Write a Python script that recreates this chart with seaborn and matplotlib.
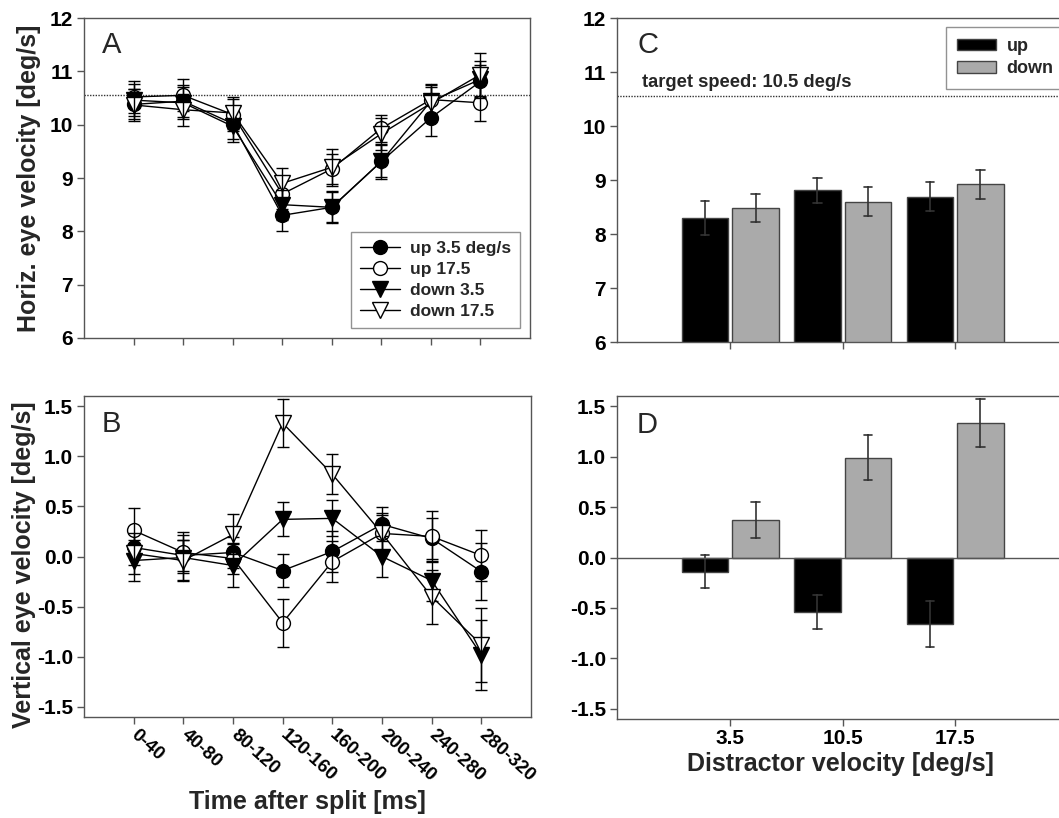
import numpy as np
import pandas as pd
import matplotlib
matplotlib.use("Agg")
import matplotlib.pyplot as plt
import seaborn as sns
from matplotlib.patches import Patch
from matplotlib.lines import Line2D

# ---------------- data ----------------
time_bins = ["0-40", "40-80", "80-120", "120-160", "160-200", "200-240", "240-280", "280-320"]
series_names = ["up 3.5 deg/s", "up 17.5", "down 3.5", "down 17.5"]

# Panel A: horizontal eye velocity (mean, sem)
horiz_up35 = [10.38, 10.44, 10.02, 8.30, 8.45, 9.31, 10.13, 10.81]
horiz_up175 = [10.52, 10.55, 10.19, 8.70, 9.17, 9.93, 10.47, 10.41]
horiz_down35 = [10.46, 10.41, 9.97, 8.50, 8.45, 9.31, 10.44, 10.85]
horiz_down175 = [10.37, 10.28, 10.22, 8.90, 9.20, 9.83, 10.40, 10.94]
horiz_up35_sem = [0.28, 0.30, 0.28, 0.30, 0.30, 0.32, 0.34, 0.30]
horiz_up175_sem = [0.30, 0.30, 0.30, 0.28, 0.28, 0.25, 0.30, 0.35]
horiz_down35_sem = [0.30, 0.30, 0.30, 0.28, 0.28, 0.30, 0.30, 0.35]
horiz_down175_sem = [0.30, 0.30, 0.30, 0.28, 0.35, 0.30, 0.30, 0.40]

# Panel B: vertical eye velocity (mean, sem)
vert_up35 = [0.09, 0.01, 0.04, -0.14, 0.05, 0.32, 0.18, -0.15]
vert_up175 = [0.26, 0.04, -0.02, -0.66, -0.05, 0.23, 0.20, 0.01]
vert_down35 = [-0.04, -0.01, -0.09, 0.37, 0.38, 0.00, -0.24, -0.98]
vert_down175 = [0.03, -0.04, 0.22, 1.33, 0.82, 0.23, -0.40, -0.88]
vert_up35_sem = [0.17, 0.15, 0.15, 0.16, 0.20, 0.17, 0.20, 0.28]
vert_up175_sem = [0.22, 0.20, 0.15, 0.24, 0.20, 0.18, 0.25, 0.25]
vert_down35_sem = [0.20, 0.22, 0.21, 0.17, 0.18, 0.20, 0.20, 0.35]
vert_down175_sem = [0.20, 0.20, 0.20, 0.24, 0.20, 0.20, 0.27, 0.37]

# Panels C / D: bar data
distractor = ["3.5", "10.5", "17.5"]
directions = ["up", "down"]
bar_horiz_up = [8.30, 8.81, 8.69]
bar_horiz_down = [8.49, 8.60, 8.92]
bar_horiz_up_sem = [0.31, 0.23, 0.27]
bar_horiz_down_sem = [0.26, 0.27, 0.27]
bar_vert_up = [-0.14, -0.54, -0.66]
bar_vert_down = [0.37, 0.99, 1.33]
bar_vert_up_sem = [0.16, 0.17, 0.23]
bar_vert_down_sem = [0.18, 0.22, 0.24]

target_speed = 10.55

# ---------------- helpers ----------------
def long_from(means_list, sems_list, names, xcats, xname, gname):
    rows = []
    for name, means, sems in zip(names, means_list, sems_list):
        for xc, m, s in zip(xcats, means, sems):
            rows.append({gname: name, xname: xc, "v": m - s})
            rows.append({gname: name, xname: xc, "v": m + s})
    return pd.DataFrame(rows)

def span(v):
    return (np.min(v), np.max(v))

sns.set_theme(style="white")
plt.rcParams["font.family"] = ["Liberation Sans", "DejaVu Sans"]
plt.rcParams["font.weight"] = "bold"

SPINE = "#555555"
TICK_FS = 15
LAB_FS = 18
LEG_FS = 12.5

W, H = 1059, 818
fig = plt.figure(figsize=(W / 100, H / 100), dpi=100)

def px_axes(l, t, r, b):
    return fig.add_axes([l / W, 1 - b / H, (r - l) / W, (b - t) / H])

axA = px_axes(84, 18, 530, 338)
axB = px_axes(84, 396, 531, 717)
axC = px_axes(617, 18, 1064, 342)
axD = px_axes(617, 396, 1064, 719)

def style_axes(ax, right=True):
    for side, sp in ax.spines.items():
        sp.set_color(SPINE)
        sp.set_linewidth(1.0)
    if not right:
        ax.spines["right"].set_visible(False)
    ax.tick_params(axis="both", which="both", direction="out", length=5, width=1,
                   color=SPINE, labelsize=TICK_FS, labelcolor="black",
                   left=True, bottom=True, top=False, right=False, pad=3)
    for lab in ax.get_yticklabels() + ax.get_xticklabels():
        lab.set_fontweight("bold")

markers = {"up 3.5 deg/s": ("o", "black"), "up 17.5": ("o", "white"),
           "down 3.5": ("v", "black"), "down 17.5": ("v", "white")}

def msize(mk):
    return 10 if mk == "o" else 11

def line_panel(ax, means_list, sems_list):
    df = long_from(means_list, sems_list, series_names, time_bins, "bin", "series")
    for name in series_names:
        mk, fc = markers[name]
        sub = df[df["series"] == name]
        sns.lineplot(data=sub, x="bin", y="v", estimator="mean", errorbar=span,
                     err_style="bars", sort=False, color="black", linewidth=1.0,
                     marker=mk, markersize=msize(mk),
                     markerfacecolor=fc, markeredgecolor="black", markeredgewidth=1.0,
                     err_kws={"capsize": 4.5, "elinewidth": 1.0, "capthick": 1.0},
                     ax=ax, legend=False)
    ax.set_xlim(-1, 8.0)
    ax.set_xlabel("")
    ax.set_ylabel("")

# ---------- Panel A ----------
line_panel(axA, [horiz_up35, horiz_up175, horiz_down35, horiz_down175],
           [horiz_up35_sem, horiz_up175_sem, horiz_down35_sem, horiz_down175_sem])
axA.axhline(target_speed, color="#333333", linestyle=(0, (1, 1)), linewidth=1.0, zorder=0)
axA.set_ylim(6, 12)
axA.set_yticks([6, 7, 8, 9, 10, 11, 12])
axA.set_xticks(range(len(time_bins)))
axA.set_xticklabels([])
axA.set_ylabel("Horiz. eye velocity [deg/s]", fontsize=LAB_FS, fontweight="bold")
axA.yaxis.set_label_coords(-0.097, 0.5)
style_axes(axA)
handles = [Line2D([], [], color="black", lw=1, marker=markers[n][0], markersize=msize(markers[n][0]),
                  markerfacecolor=markers[n][1], markeredgecolor="black") for n in series_names]
legA = axA.legend(handles, series_names, loc="lower right", fontsize=LEG_FS, frameon=True,
                  fancybox=False, edgecolor="#777777", handlelength=2.3, borderaxespad=0.55,
                  labelspacing=0.33, handletextpad=0.55, borderpad=0.55)
legA.get_frame().set_linewidth(1.0)
for t in legA.get_texts():
    t.set_fontweight("bold")
axA.text(0.04, 0.96, "A", transform=axA.transAxes, fontsize=21, fontweight="normal", va="top", ha="left")

# ---------- Panel B ----------
line_panel(axB, [vert_up35, vert_up175, vert_down35, vert_down175],
           [vert_up35_sem, vert_up175_sem, vert_down35_sem, vert_down175_sem])
axB.set_ylim(-1.6, 1.6)
axB.set_yticks([-1.5, -1.0, -0.5, 0.0, 0.5, 1.0, 1.5])
axB.set_yticklabels([f"{v:.1f}" for v in [-1.5, -1.0, -0.5, 0.0, 0.5, 1.0, 1.5]])
axB.set_xticks(range(len(time_bins)))
axB.set_xticklabels(time_bins, rotation=-42, ha="left", va="center", rotation_mode="anchor")
axB.set_ylabel("Vertical eye velocity [deg/s]", fontsize=LAB_FS, fontweight="bold")
axB.yaxis.set_label_coords(-0.107, 0.475)
axB.set_xlabel("Time after split [ms]", fontsize=LAB_FS, fontweight="bold", labelpad=4)
style_axes(axB)
axB.tick_params(axis="x", pad=6, labelsize=13.5)
axB.text(0.04, 0.955, "B", transform=axB.transAxes, fontsize=21, fontweight="normal", va="top", ha="left")

# ---------- Panels C / D ----------
palette = {"up": "black", "down": "#aaaaaa"}

def bar_panel(ax, up, down, up_sem, down_sem):
    df = long_from([up, down], [up_sem, down_sem], directions, distractor, "dist", "dir")
    sns.barplot(data=df, x="dist", y="v", hue="dir", hue_order=directions, order=distractor,
                estimator="mean", errorbar=span, palette=palette, width=0.9, gap=0.08,
                edgecolor="#444444", linewidth=1.0, capsize=0.15,
                err_kws={"color": "#333333", "linewidth": 1.2}, ax=ax, legend=False)
    ax.set_xlim(-1.01, 2.97)
    ax.set_xlabel("")
    ax.set_ylabel("")

bar_panel(axC, bar_horiz_up, bar_horiz_down, bar_horiz_up_sem, bar_horiz_down_sem)
axC.set_ylim(6, 12)
axC.set_yticks([6, 7, 8, 9, 10, 11, 12])
axC.set_xticks(range(len(distractor)))
axC.set_xticklabels([])
axC.axhline(target_speed, color="#333333", linestyle=(0, (1, 1)), linewidth=1.0, zorder=0)
axC.text(0.056, 0.80, "target speed: 10.5 deg/s", transform=axC.transAxes, fontsize=13.2,
         fontweight="bold", va="center", ha="left")
style_axes(axC, right=False)
legC = axC.legend([Patch(facecolor="black", edgecolor="#444444"), Patch(facecolor="#aaaaaa", edgecolor="#444444")],
                  directions, loc="upper left", bbox_to_anchor=(0.735, 0.973), borderaxespad=0,
                  fontsize=13, frameon=True, fancybox=False, edgecolor="#777777",
                  handlelength=2.2, handleheight=0.6, labelspacing=0.3, handletextpad=0.55, borderpad=0.62)
legC.get_frame().set_linewidth(1.0)
for t in legC.get_texts():
    t.set_fontweight("bold")
axC.text(0.045, 0.96, "C", transform=axC.transAxes, fontsize=21, fontweight="normal", va="top", ha="left")

bar_panel(axD, bar_vert_up, bar_vert_down, bar_vert_up_sem, bar_vert_down_sem)
axD.axhline(0, color="#555555", linewidth=1.0, zorder=3)
axD.set_ylim(-1.6, 1.6)
axD.set_yticks([-1.5, -1.0, -0.5, 0.0, 0.5, 1.0, 1.5])
axD.set_yticklabels([f"{v:.1f}" for v in [-1.5, -1.0, -0.5, 0.0, 0.5, 1.0, 1.5]])
axD.set_xticks(range(len(distractor)))
axD.set_xticklabels(distractor)
axD.set_xlabel("Distractor velocity [deg/s]", fontsize=LAB_FS, fontweight="bold", labelpad=3)
style_axes(axD, right=False)
axD.tick_params(axis="x", pad=2)
axD.text(0.045, 0.955, "D", transform=axD.transAxes, fontsize=21, fontweight="normal", va="top", ha="left")

fig.savefig("out.png", dpi=100)
